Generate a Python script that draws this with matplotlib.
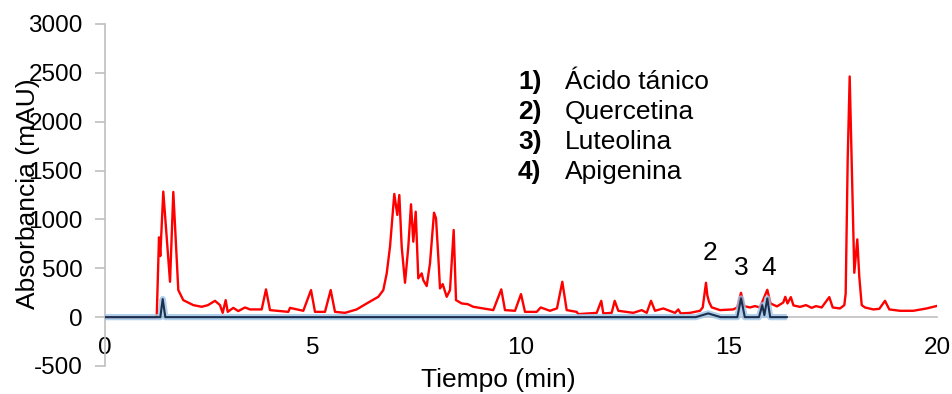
import matplotlib
matplotlib.use("Agg")
import matplotlib.pyplot as plt

plt.rcParams['font.family'] = ['Liberation Sans', 'DejaVu Sans']
plt.rcParams['axes.unicode_minus'] = False

muestra_t = [0.0, 1.22, 1.243, 1.298, 1.329, 1.401, 1.563, 1.642, 1.762, 1.882,
             2.123, 2.325, 2.476, 2.644, 2.764, 2.829, 2.901, 2.950, 3.084, 3.204,
             3.365, 3.486, 3.767, 3.870, 3.966, 4.406, 4.447, 4.767, 4.952, 5.048,
             5.288, 5.425, 5.529, 5.769, 6.050, 6.291, 6.570, 6.690, 6.772, 6.851,
             6.954, 7.026, 7.075, 7.132, 7.212, 7.291, 7.356, 7.411, 7.469, 7.531,
             7.613, 7.651, 7.733, 7.812, 7.909, 7.957, 8.012, 8.053, 8.118, 8.214,
             8.293, 8.382, 8.438, 8.575, 8.719, 8.853, 9.094, 9.334, 9.526, 9.615,
             9.856, 10.0, 10.096, 10.377, 10.474, 10.697, 10.865, 10.993, 11.098, 11.339,
             11.377, 11.820, 11.930, 11.978, 12.180, 12.252, 12.339, 12.700, 12.901, 13.022,
             13.125, 13.221, 13.421, 13.702, 13.781, 13.839, 14.063, 14.303, 14.368, 14.447,
             14.478, 14.519, 14.584, 14.784, 15.103, 15.200, 15.288, 15.361, 15.505, 15.625,
             15.745, 15.921, 15.998, 16.154, 16.305, 16.353, 16.406, 16.486, 16.550, 16.707,
             16.851, 16.988, 17.091, 17.228, 17.411, 17.493, 17.668, 17.772, 17.805, 17.853,
             17.901, 17.949, 18.012, 18.084, 18.132, 18.190, 18.269, 18.469, 18.613, 18.750,
             18.853, 19.111, 19.430, 19.752, 20.0]
muestra_abs = [0, 0, 0, 817, 625, 1285, 362, 1281, 277, 174,
               123, 106, 123, 167, 123, 44, 174, 54, 95, 62,
               99, 79, 79, 284, 72, 54, 95, 65, 277, 54,
               54, 277, 54, 44, 79, 140, 208, 277, 448, 720,
               1261, 1046, 1250, 720, 352, 720, 1155, 772, 1079, 397,
               448, 379, 318, 550, 1069, 1012, 618, 294, 338, 208,
               277, 892, 174, 140, 133, 106, 89, 72, 284, 72,
               65, 236, 54, 54, 99, 65, 90, 362, 72, 54,
               31, 44, 167, 38, 44, 167, 65, 44, 72, 44,
               167, 65, 89, 44, 79, 38, 44, 65, 99, 352,
               226, 157, 100, 72, 79, 99, 249, 113, 99, 113,
               99, 280, 140, 110, 150, 208, 140, 205, 120, 105,
               123, 95, 113, 99, 205, 99, 89, 123, 243, 1609,
               2463, 1609, 454, 796, 413, 123, 99, 79, 85, 167,
               79, 65, 65, 89, 115]

# Estandares (azul)
estandar_t = [0.0, 1.33, 1.387, 1.45, 14.2, 14.5, 14.8, 15.2, 15.29, 15.38,
              15.72, 15.80, 15.85, 15.92, 15.99, 16.39]
estandar_abs = [0, 0, 185, 0, 0, 38, 0, 0, 192, 0,
                0, 123, 20, 192, 0, 0]

compuestos = ['Ácido tánico', 'Quercetina', 'Luteolina', 'Apigenina']
picos_etiqueta = ['2', '3', '4']
picos_t = [14.54, 15.29, 15.96]
picos_y = [656, 502, 502]

fs = 19
fs_ticks = 17.5
gris = '#bfbfbf'

fig = plt.figure(figsize=(9.53, 3.94), dpi=100)
ax = fig.add_axes([105 / 953, 1 - 366 / 394, 832 / 953, 342 / 394])

ax.plot(muestra_t, muestra_abs, color='#ff0000', lw=1.7, zorder=3)
# linea azul con halo claro
ax.plot(estandar_t, estandar_abs, color='#9dc3e6', lw=4.5, alpha=0.8,
        solid_capstyle='butt', zorder=4)
ax.plot(estandar_t, estandar_abs, color='#1b2f4e', lw=1.5, zorder=5)

for lab, t, y in zip(picos_etiqueta, picos_t, picos_y):
    ax.text(t, y, lab, fontsize=fs, ha='center', va='center', zorder=6)

for i, nombre in enumerate(compuestos):
    y = 2409 - i * 308
    ax.text(9.93, y, f'{i + 1})', fontsize=fs, fontweight='bold', va='center')
    ax.text(11.06, y, nombre, fontsize=fs, va='center')

ax.set_xlim(0, 20)
ax.set_ylim(-500, 3000)
ax.set_xticks([0, 5, 10, 15, 20])
ax.set_yticks(range(-500, 3001, 500))

for s in ['top', 'right']:
    ax.spines[s].set_visible(False)
ax.spines['bottom'].set_position(('data', 0))
ax.spines['bottom'].set_color(gris)
ax.spines['left'].set_color(gris)
ax.spines['bottom'].set_linewidth(1.2)
ax.spines['left'].set_linewidth(1.2)

ax.tick_params(axis='x', length=0, pad=14, labelsize=fs_ticks)
ax.tick_params(axis='y', length=7, width=1.2, color=gris, pad=9, labelsize=fs_ticks)

fig.text(28 / 953, 1 - 194 / 394, 'Absorbancia (mAU)', rotation=90,
         fontsize=fs, ha='center', va='center')
fig.text(498 / 953, 1 - 380 / 394, 'Tiempo (min)', fontsize=fs,
         ha='center', va='center')

fig.savefig('out.png', dpi=100)
